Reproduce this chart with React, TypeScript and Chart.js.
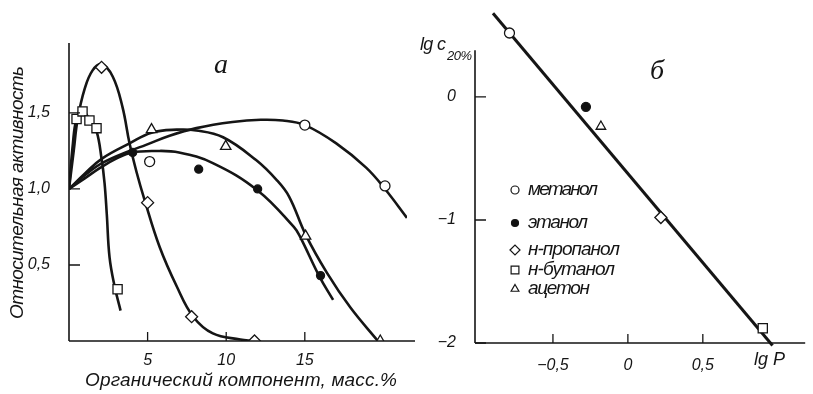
import React, { useEffect, useRef } from "react";
import { Chart, registerables } from "chart.js";
import { drawPoint } from "chart.js/helpers";

Chart.register(...registerables);

type P = [number, number];

// ---------- Panel а ----------
const xTicksA = [5, 10, 15];
const yTicksA = [0.5, 1.0, 1.5];
const xTitleA = "Органический компонент, масс.%";
const yTitleA = "Относительная активность";
const panelLetterA = "а";

const methanolPointsA: P[] = [[5.13, 1.18], [15.0, 1.42], [20.1, 1.02]];
const ethanolPointsA: P[] = [[4.05, 1.24], [8.25, 1.13], [12.0, 1.0], [16.0, 0.43]];
const propanolPointsA: P[] = [[2.07, 1.8], [5.0, 0.91], [7.8, 0.16], [11.8, 0.0]];
const butanolPointsA: P[] = [[0.48, 1.46], [0.86, 1.51], [1.3, 1.45], [1.75, 1.4], [3.09, 0.34]];
const acetonePointsA: P[] = [[5.25, 1.39], [9.97, 1.28], [15.05, 0.69], [19.8, 0.0]];

const methanolCurveA: P[] = [[0, 1.0], [1, 1.09], [2.1, 1.17], [3.85, 1.25], [4.9, 1.29], [6.4, 1.35], [8.1, 1.4], [10.4, 1.44], [12.2, 1.455], [13.6, 1.45], [15, 1.42], [17, 1.3], [18.9, 1.14], [20.1, 1.0], [21.5, 0.81]];
const ethanolCurveA: P[] = [[0, 1.0], [1, 1.07], [2, 1.14], [3, 1.2], [4, 1.24], [5.5, 1.25], [7, 1.24], [9.15, 1.17], [12, 0.99], [14.3, 0.75], [14.68, 0.69], [15.95, 0.42], [16.8, 0.27]];
const propanolCurveA: P[] = [[0, 1.0], [0.3, 1.25], [0.55, 1.46], [1.0, 1.66], [1.5, 1.78], [2.07, 1.82], [2.78, 1.74], [3.4, 1.54], [3.85, 1.3], [4.3, 1.11], [4.8, 0.93], [5.76, 0.62], [6.85, 0.36], [7.9, 0.16], [9.15, 0.05], [10.9, 0.01], [11.7, 0.0]];
const butanolCurveA: P[] = [[0, 1.0], [0.25, 1.3], [0.48, 1.46], [0.86, 1.51], [1.3, 1.46], [1.75, 1.38], [2.07, 1.2], [2.26, 1.04], [2.4, 0.84], [2.58, 0.55], [2.9, 0.36], [3.28, 0.2]];
const acetoneCurveA: P[] = [[0, 1.0], [1, 1.1], [2.1, 1.2], [3.85, 1.3], [5.25, 1.37], [6.85, 1.39], [8.1, 1.385], [9.8, 1.34], [11.9, 1.19], [13.2, 1.06], [14.0, 0.95], [15.05, 0.7], [16.4, 0.45], [17.9, 0.22], [19.65, 0.0]];

// ---------- Panel б ----------
const xTicksB = [-0.5, 0, 0.5];
const yTicksB = [0, -1, -2];
const panelLetterB = "б";
const seriesNames = ["метанол", "этанол", "н-пропанол", "н-бутанол", "ацетон"];
const lgP = [-0.79, -0.28, 0.22, 0.9, -0.18];
const lgC = [0.52, -0.08, -0.98, -1.88, -0.24];
const fitLineX = [-0.9, 0.965];
const fitLineY = [0.68, -2.02];

// marker styles per series (метанол, этанол, н-пропанол, н-бутанол, ацетон)
const markerStyle = ["circle", "circle", "rectRot", "rect", "triangle"];
const markerFill = ["#fff", "#111", "#fff", "#fff", "#fff"];
const markerRadiusA = [5, 4, 6, 6.5, 6];
const markerRadiusB = [5, 4.5, 6, 6.5, 5.5];

const INK = "#151515";
const FONT = '"Liberation Sans", "DejaVu Sans", sans-serif';

const fmtA = (v: number) => (Number.isInteger(v) && v >= 5 ? String(v) : v.toFixed(1).replace(".", ","));
const fmtB = (v: number) => (Number.isInteger(v) ? String(v) : String(v).replace(".", ",")).replace("-", "−");

function fitText(ctx: CanvasRenderingContext2D, text: string, x: number, y: number, width: number, font: string) {
  ctx.font = font;
  (ctx as any).letterSpacing = "0px";
  const w = ctx.measureText(text).width;
  const n = Array.from(text).length;
  const sp = n > 1 ? (width - w) / (n - 1) : 0;
  (ctx as any).letterSpacing = sp + "px";
  ctx.textAlign = "left";
  ctx.textBaseline = "middle";
  ctx.fillText(text, x, y);
  (ctx as any).letterSpacing = "0px";
}

function drawAxes(chart: any, yTopValue: number | null, xExtend: number) {
  const ctx: CanvasRenderingContext2D = chart.ctx;
  const { left, right, top, bottom } = chart.chartArea;
  const xs = chart.scales.x;
  const ys = chart.scales.y;
  ctx.save();
  ctx.strokeStyle = INK;
  ctx.lineWidth = 1.6;
  ctx.beginPath();
  ctx.moveTo(left, bottom);
  ctx.lineTo(right + xExtend, bottom);
  const yTop = yTopValue === null ? top : ys.getPixelForValue(yTopValue);
  ctx.moveTo(left, bottom);
  ctx.lineTo(left, yTop);
  ctx.stroke();
  ctx.lineWidth = 1.3;
  ctx.beginPath();
  xs.ticks.forEach((t: any) => {
    const px = xs.getPixelForValue(t.value);
    ctx.moveTo(px, bottom);
    ctx.lineTo(px, bottom - 9);
  });
  ys.ticks.forEach((t: any) => {
    const py = ys.getPixelForValue(t.value);
    ctx.moveTo(left, py);
    ctx.lineTo(left + 11, py);
  });
  ctx.stroke();
  ctx.restore();
}

const plugA = {
  id: "plugA",
  afterDraw(chart: any) {
    const ctx: CanvasRenderingContext2D = chart.ctx;
    drawAxes(chart, null, 8);
    ctx.save();
    ctx.fillStyle = INK;
    fitText(ctx, xTitleA, 85, 381, 312, `italic 19px ${FONT}`);
    ctx.translate(18, 193);
    ctx.rotate(-Math.PI / 2);
    fitText(ctx, yTitleA, -126, 0, 253, `italic 19px ${FONT}`);
    ctx.restore();
    ctx.save();
    ctx.fillStyle = INK;
    ctx.font = 'italic 28px "Liberation Serif", serif';
    ctx.textAlign = "center";
    ctx.textBaseline = "middle";
    ctx.fillText(panelLetterA, 221, 66);
    ctx.restore();
  },
};

const OFFB = 413;
const plugB = {
  id: "plugB",
  afterDraw(chart: any) {
    const ctx: CanvasRenderingContext2D = chart.ctx;
    drawAxes(chart, 0.38, 0);
    ctx.save();
    ctx.fillStyle = INK;
    fitText(ctx, "lg c", 420 - OFFB, 45, 26, `italic 18px ${FONT}`);
    fitText(ctx, "20%", 447 - OFFB, 56, 25, `italic 13px ${FONT}`);
    fitText(ctx, "lg P", 754 - OFFB, 360, 31, `italic 18px ${FONT}`);
    ctx.font = 'italic 28px "Liberation Serif", serif';
    ctx.textAlign = "center";
    ctx.textBaseline = "middle";
    ctx.fillText(panelLetterB, 657 - OFFB, 72);
    const rows = [190, 223, 250, 270, 289];
    const widths = [70, 60, 92, 87, 62];
    seriesNames.forEach((name, i) => {
      ctx.save();
      ctx.fillStyle = markerFill[i];
      ctx.strokeStyle = INK;
      ctx.lineWidth = 1.2;
      drawPoint(ctx, { pointStyle: markerStyle[i] as any, radius: markerRadiusB[i] - 1, rotation: 0, borderWidth: 1.2 } as any, 515 - OFFB, rows[i]);
      ctx.restore();
      ctx.fillStyle = INK;
      fitText(ctx, name, 528 - OFFB, rows[i], widths[i], `italic 19px ${FONT}`);
    });
    ctx.restore();
  },
};

const toXY = (arr: P[]) => arr.map(([x, y]) => ({ x, y }));

export default function App() {
  const refA = useRef<HTMLCanvasElement>(null);
  const refB = useRef<HTMLCanvasElement>(null);

  useEffect(() => {
    const pointsA = [methanolPointsA, ethanolPointsA, propanolPointsA, butanolPointsA, acetonePointsA];
    const curvesA = [methanolCurveA, ethanolCurveA, propanolCurveA, butanolCurveA, acetoneCurveA];
    const markerSetsA = pointsA.map((pts, i) => ({
      label: seriesNames[i],
      data: toXY(pts),
      showLine: false,
      order: 0,
      pointStyle: markerStyle[i],
      pointRadius: markerRadiusA[i],
      pointBackgroundColor: markerFill[i],
      pointBorderColor: INK,
      pointBorderWidth: 1.3,
    }));
    const curveSetsA = curvesA.map((pts, i) => ({
      label: seriesNames[i] + " кривая",
      data: toXY(pts),
      showLine: true,
      order: 1,
      pointRadius: 0,
      borderColor: INK,
      borderWidth: 2.6,
      tension: 0.4,
      fill: false,
    }));

    const tickFont = { family: FONT, size: 16, style: "italic" as const };
    const noPad = (s: any) => { s.paddingTop = 0; s.paddingBottom = 0; s.paddingLeft = 0; s.paddingRight = 0; };

    const chartA = new Chart(refA.current!, {
      type: "scatter",
      data: { datasets: [...markerSetsA, ...curveSetsA] as any },
      plugins: [plugA],
      options: {
        animation: false,
        responsive: false,
        events: [],
        layout: { padding: { left: 0, right: 13, top: 43, bottom: 0 } },
        plugins: { legend: { display: false }, tooltip: { enabled: false } },
        scales: {
          x: {
            type: "linear",
            min: 0,
            max: 21.5,
            grid: { display: false },
            border: { display: false },
            afterFit: (s: any) => { s.height = 53; noPad(s); },
            afterBuildTicks: (s: any) => { s.ticks = xTicksA.map((v) => ({ value: v })); },
            ticks: { font: tickFont, color: INK, padding: 2, callback: (v: any) => fmtA(Number(v)) },
          },
          y: {
            type: "linear",
            min: 0,
            max: 1.96,
            grid: { display: false },
            border: { display: false },
            afterFit: (s: any) => { s.width = 69; noPad(s); },
            afterBuildTicks: (s: any) => { s.ticks = yTicksA.map((v) => ({ value: v })); },
            ticks: { font: tickFont, color: INK, padding: 11, callback: (v: any) => fmtA(Number(v)) },
          },
        },
      } as any,
    });

    const markerSetsB = seriesNames.map((name, i) => ({
      label: name,
      data: [{ x: lgP[i], y: lgC[i] }],
      showLine: false,
      order: 0,
      pointStyle: markerStyle[i],
      pointRadius: markerRadiusB[i],
      pointBackgroundColor: markerFill[i],
      pointBorderColor: INK,
      pointBorderWidth: 1.3,
    }));
    const lineSetB = {
      label: "fit",
      data: fitLineX.map((x, i) => ({ x, y: fitLineY[i] })),
      showLine: true,
      order: 1,
      pointRadius: 0,
      borderColor: INK,
      borderWidth: 3,
      fill: false,
      clip: false,
    };

    const chartB = new Chart(refB.current!, {
      type: "scatter",
      data: { datasets: [...markerSetsB, lineSetB] as any },
      plugins: [plugB],
      options: {
        animation: false,
        responsive: false,
        events: [],
        layout: { padding: { left: 0, right: 1, top: 10, bottom: 0 } },
        plugins: { legend: { display: false }, tooltip: { enabled: false } },
        scales: {
          x: {
            type: "linear",
            min: -1.02,
            max: 1.183,
            grid: { display: false },
            border: { display: false },
            afterFit: (s: any) => { s.height = 51; noPad(s); },
            afterBuildTicks: (s: any) => { s.ticks = xTicksB.map((v) => ({ value: v })); },
            ticks: { font: tickFont, color: INK, padding: 5, callback: (v: any) => fmtB(Number(v)) },
          },
          y: {
            type: "linear",
            min: -2,
            max: 0.707,
            grid: { display: false },
            border: { display: false },
            afterFit: (s: any) => { s.width = 62; noPad(s); },
            afterBuildTicks: (s: any) => { s.ticks = yTicksB.map((v) => ({ value: v })); },
            ticks: { font: tickFont, color: INK, padding: 11, callback: (v: any) => fmtB(Number(v)) },
          },
        },
      } as any,
    });

    return () => {
      chartA.destroy();
      chartB.destroy();
    };
  }, []);

  return (
    <div style={{ position: "fixed", left: 0, top: 0, width: 813, height: 394, background: "#fff", overflow: "hidden" }}>
      <canvas ref={refA} width={420} height={394} style={{ position: "absolute", left: 0, top: 0, width: 420, height: 394 }} />
      <canvas ref={refB} width={400} height={394} style={{ position: "absolute", left: OFFB, top: 0, width: 400, height: 394 }} />
    </div>
  );
}
